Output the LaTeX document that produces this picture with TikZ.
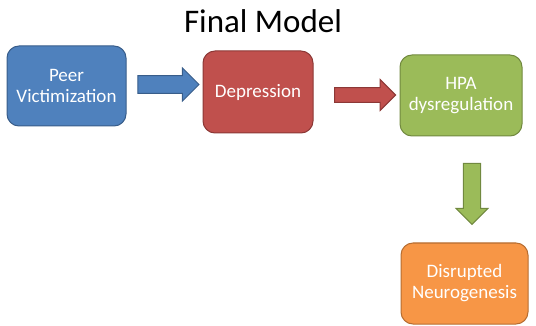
\documentclass[tikz,border=0pt]{standalone}
\usepackage{fontspec}
\setmainfont{Carlito}
\usetikzlibrary{shapes.arrows}
\definecolor{vicblue}{HTML}{4F81BD}
\definecolor{vicblueline}{HTML}{385D8A}
\definecolor{depred}{HTML}{C0504D}
\definecolor{depredline}{HTML}{8C3836}
\definecolor{hpagreen}{HTML}{9BBB59}
\definecolor{hpagreenline}{HTML}{71893F}
\definecolor{neuorange}{HTML}{F79646}
\definecolor{neuorangeline}{HTML}{B66D31}
\tikzset{
  box/.style={rectangle, rounded corners=12pt, line width=1pt, text=white,
    align=center, inner sep=0pt, font=\fontsize{19}{21}\selectfont},
  blockarrow/.style={single arrow, line width=1pt, inner xsep=0pt,
    single arrow head indent=0pt, minimum height=61pt}
}
\begin{document}
\begin{tikzpicture}[x=1pt, y=-1pt]
    \useasboundingbox (0,0) rectangle (536,326);
    \node[font=\fontsize{33}{38}\selectfont] (title) at (263,21) {Final Model};

    \node[box, fill=vicblue, draw=vicblueline, minimum width=119pt, minimum height=80pt] (peer) at (66.5,86) {Peer\\Victimization};
    \node[box, fill=depred, draw=depredline, minimum width=110pt, minimum height=82pt] (dep) at (258,92) {Depression};
    \node[box, fill=hpagreen, draw=hpagreenline, minimum width=122pt, minimum height=81pt] (hpa) at (461,95.5) {HPA\\dysregulation};
    \node[box, fill=neuorange, draw=neuorangeline, minimum width=127pt, minimum height=81pt] (neuro) at (464.5,283.5) {Disrupted\\Neurogenesis};

    \node[blockarrow, fill=vicblue, draw=vicblueline, inner ysep=8pt, minimum width=33pt] (a1) at (164,84.5) {};
    \node[blockarrow, fill=depred, draw=depredline, inner ysep=6pt, minimum width=31pt] (a2) at (361.5,95) {};
    \node[blockarrow, fill=hpagreen, draw=hpagreenline, inner sep=8pt, minimum width=32pt, shape border rotate=270] (a3) at (472,189.5) {};
\end{tikzpicture}
\end{document}
